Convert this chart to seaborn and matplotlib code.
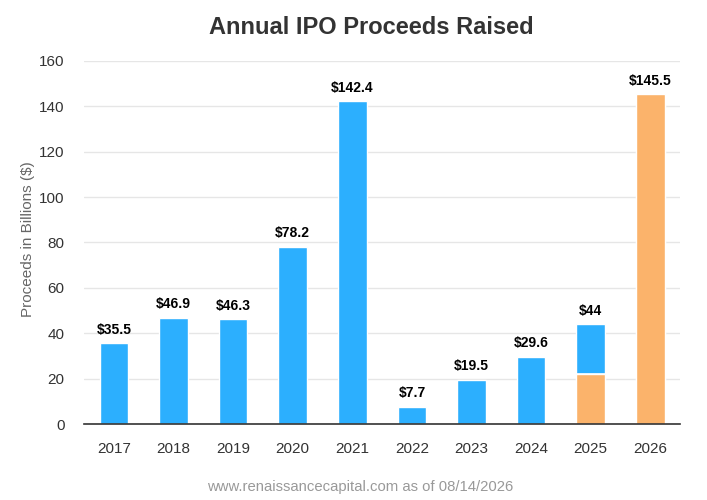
import matplotlib
matplotlib.use("Agg")
import matplotlib.pyplot as plt
import seaborn as sns
import pandas as pd

# data
years = ["2017", "2018", "2019", "2020", "2021", "2022", "2023", "2024", "2025", "2026"]
blue_vals = [35.5, 46.9, 46.3, 78.2, 142.4, 7.7, 19.5, 29.6, 21.8, 0.0]
orange_vals = [0.0, 0.0, 0.0, 0.0, 0.0, 0.0, 0.0, 0.0, 22.2, 145.5]
labels = ["$35.5", "$46.9", "$46.3", "$78.2", "$142.4", "$7.7", "$19.5", "$29.6", "$44", "$145.5"]
y_ticks = [0, 20, 40, 60, 80, 100, 120, 140, 160]

BLUE = "#2CAFFE"
ORANGE = "#FBB36B"

sns.set_theme(style="white")
plt.rcParams["font.family"] = ["Liberation Sans", "DejaVu Sans"]

df = pd.DataFrame({"year": years, "blue": blue_vals, "orange": orange_vals})
df["total"] = df["blue"] + df["orange"]

fig = plt.figure(figsize=(7.07, 5.0), dpi=100)
ax = fig.add_axes([0.119, 0.152, 0.843, 0.726])

# stacked: blue total behind, orange bottom part in front
sns.barplot(data=df, x="year", y="total", color=BLUE, width=0.48, saturation=1, ax=ax)
sns.barplot(data=df, x="year", y="orange", color=ORANGE, width=0.48, saturation=1, ax=ax)

# thin white split between orange and blue on stacked bar
for i, (b, o) in enumerate(zip(blue_vals, orange_vals)):
    if b > 0 and o > 0:
        ax.plot([i - 0.24, i + 0.24], [o, o], color="white", lw=1.2, zorder=5)

for i, (t, lab) in enumerate(zip(df["total"], labels)):
    ax.text(i, t + 2.8, lab, ha="center", va="bottom", fontsize=10,
            fontweight="bold", color="black")

ax.set_ylim(0, 160)
ax.set_xlim(-0.5, 9.5)
ax.set_yticks(y_ticks)
ax.yaxis.grid(True, color="#E6E6E6", lw=1)
ax.set_axisbelow(True)
for s in ["top", "right", "left"]:
    ax.spines[s].set_visible(False)
ax.spines["bottom"].set_color("#333333")
ax.spines["bottom"].set_linewidth(1.2)
ax.tick_params(axis="both", length=0, labelsize=11, colors="#333333")
ax.tick_params(axis="x", pad=13)
ax.tick_params(axis="y", pad=14)
ax.set_xlabel("")
ax.set_ylabel("Proceeds in Billions ($)", fontsize=11, color="#666666", va="center")
ax.yaxis.set_label_coords(-0.094, 0.51)

fig.text(0.525, 0.946, "Annual IPO Proceeds Raised", ha="center", va="center",
         fontsize=17, fontweight="bold", color="#333333")
fig.text(0.509, 0.026, "www.renaissancecapital.com as of 08/14/2026", ha="center",
         va="center", fontsize=10.7, color="#999999")

fig.savefig("out.png", dpi=100)
